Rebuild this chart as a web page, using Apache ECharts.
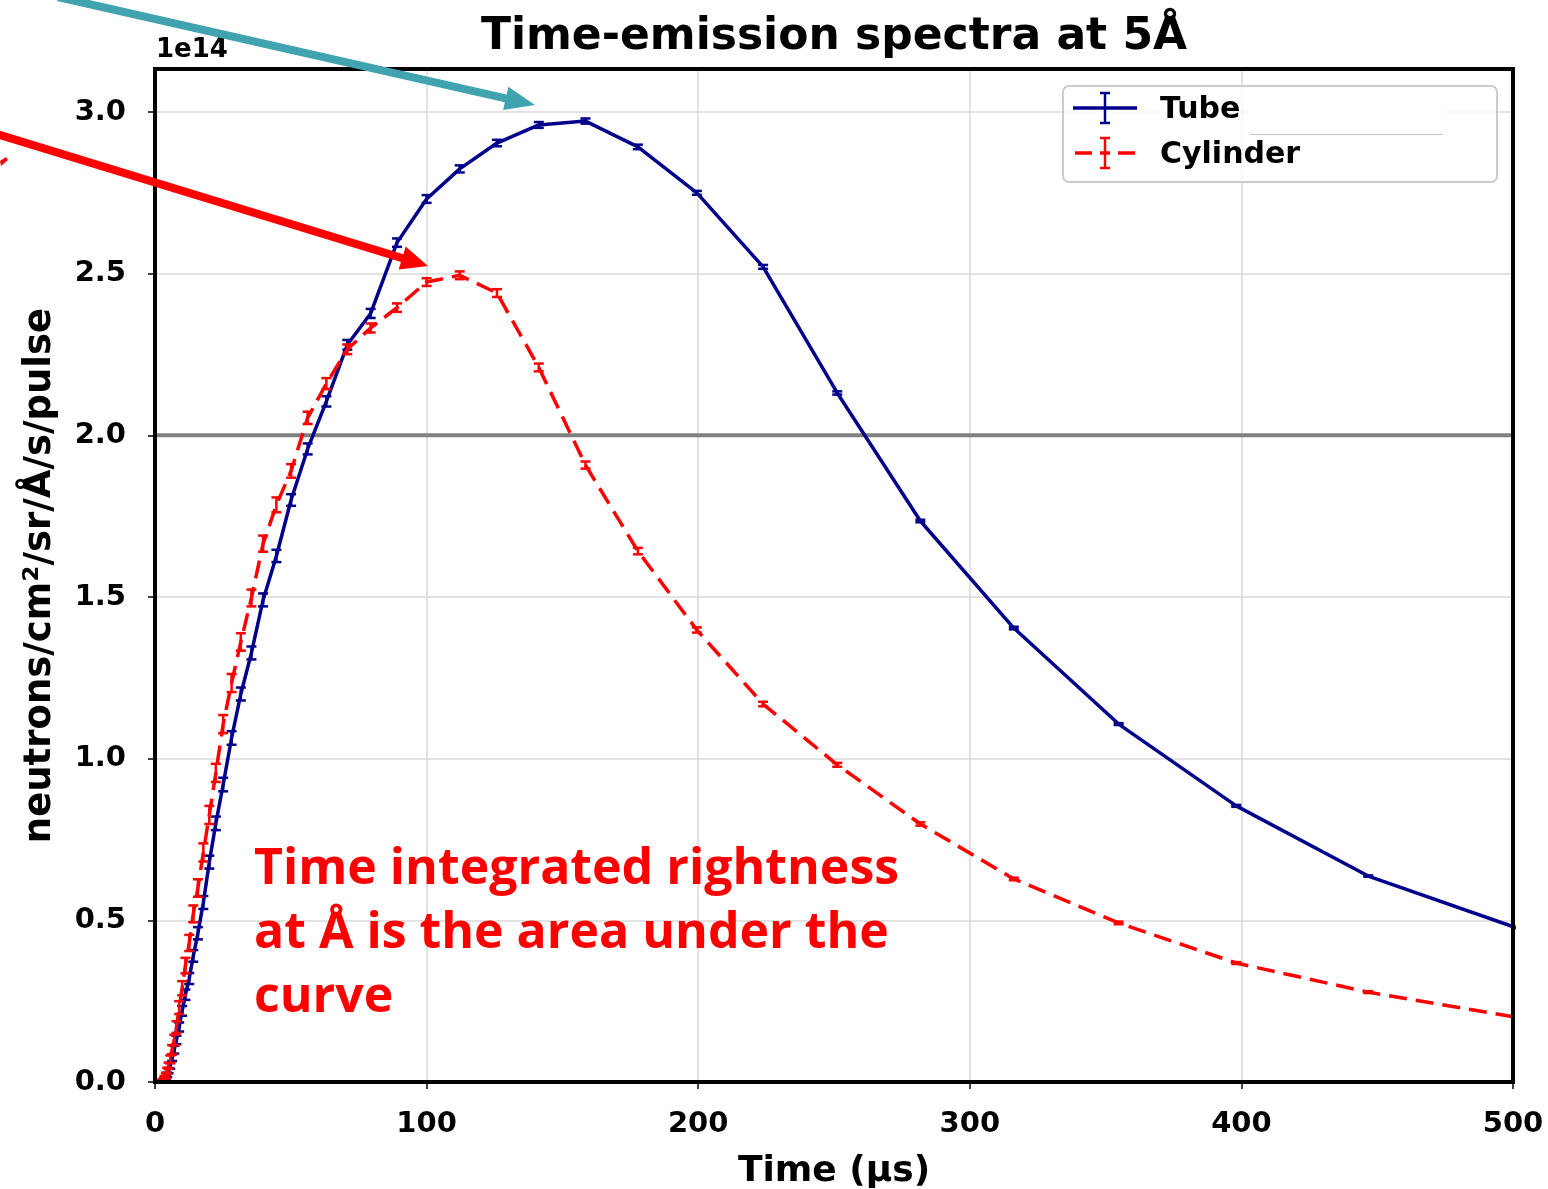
<!DOCTYPE html>
<html><head><meta charset="utf-8">
<script src="https://cdn.jsdelivr.net/npm/echarts@6/dist/echarts.min.js"></script>
<style>html,body{margin:0;padding:0;background:#fff}#c{width:1548px;height:1189px}</style>
</head><body><div id="c"></div>
<script>
// Time bins (µs)
const timeUs = [2.5,2.8,3.2,3.5,4.0,4.5,5.0,5.6,6.3,7.1,7.9,8.9,10.0,11.2,12.6,14.1,15.8,17.8,20.0,22.4,25.1,28.2,31.6,35.5,39.8,44.7,50.1,56.2,63.1,70.8,79.4,89.1,100.0,112.2,125.9,141.3,158.5,177.8,199.5,223.9,251.2,281.8,316.2,354.8,398.1,446.7,501.2];
// values in units of 1e14 neutrons/cm2/sr/Å/s/pulse
const tubeVals = [0.0,0.001,0.003,0.006,0.012,0.022,0.035,0.05,0.075,0.10,0.13,0.17,0.22,0.27,0.32,0.39,0.46,0.555,0.68,0.80,0.92,1.064,1.20,1.327,1.491,1.627,1.80,1.958,2.105,2.28,2.377,2.596,2.731,2.824,2.904,2.960,2.972,2.892,2.750,2.521,2.131,1.735,1.404,1.107,0.854,0.637,0.477];
const tubeErr = [0.003,0.003,0.004,0.005,0.006,0.007,0.008,0.009,0.01,0.012,0.013,0.014,0.015,0.016,0.017,0.018,0.019,0.02,0.02,0.021,0.021,0.021,0.02,0.02,0.02,0.019,0.018,0.017,0.016,0.015,0.014,0.013,0.012,0.011,0.01,0.009,0.008,0.007,0.006,0.006,0.005,0.004,0.004,0.003,0.003,0.002,0.002];
const cylVals = [0.001,0.003,0.006,0.012,0.02,0.035,0.05,0.07,0.10,0.13,0.17,0.23,0.29,0.36,0.43,0.52,0.60,0.71,0.826,0.956,1.107,1.234,1.361,1.497,1.665,1.785,1.89,2.054,2.16,2.266,2.332,2.395,2.474,2.495,2.44,2.21,1.908,1.642,1.398,1.169,0.981,0.798,0.628,0.492,0.368,0.278,0.200];
const cylErr = [0.004,0.005,0.006,0.007,0.008,0.009,0.01,0.012,0.014,0.016,0.018,0.02,0.022,0.024,0.025,0.026,0.027,0.028,0.028,0.028,0.028,0.028,0.027,0.026,0.025,0.023,0.021,0.019,0.017,0.015,0.014,0.013,0.012,0.012,0.012,0.012,0.011,0.01,0.008,0.007,0.006,0.005,0.004,0.004,0.003,0.003,0.003];
const xTickVals = [0,100,200,300,400,500];
const yTickVals = [0.0,0.5,1.0,1.5,2.0,2.5,3.0];
const refLevel = 2.0;

const BLUE = '#00008b', RED = '#ff0000';
const F = 'DejaVu Sans';

const tubeLine = timeUs.map((t,i)=>[t,tubeVals[i]]);
const cylLine = timeUs.map((t,i)=>[t,cylVals[i]]);
const tubeEB = timeUs.map((t,i)=>[t,tubeVals[i],tubeErr[i]]);
const cylEB = timeUs.map((t,i)=>[t,cylVals[i],cylErr[i]]);

function errRender(color){
  return function(params, api){
    const x=api.value(0), y=api.value(1), e=api.value(2);
    const a=api.coord([x,y+e]), b=api.coord([x,y-e]);
    const hw=5, st={stroke:color,lineWidth:2.5};
    return {type:'group',children:[
      {type:'line',shape:{x1:a[0],y1:a[1],x2:b[0],y2:b[1]},style:st},
      {type:'line',shape:{x1:a[0]-hw,y1:a[1],x2:a[0]+hw,y2:a[1]},style:st},
      {type:'line',shape:{x1:b[0]-hw,y1:b[1],x2:b[0]+hw,y2:b[1]},style:st}
    ]};
  };
}
function arrowPts(x0,y0,x1,y1,w,hl,hw){
  const dx=x1-x0, dy=y1-y0, L=Math.hypot(dx,dy), ux=dx/L, uy=dy/L, nx=-uy, ny=ux;
  const bx=x1-hl*ux, by=y1-hl*uy;
  return [[x0+nx*w/2,y0+ny*w/2],[bx+nx*w/2,by+ny*w/2],[bx+nx*hw,by+ny*hw],[x1,y1],[bx-nx*hw,by-ny*hw],[bx-nx*w/2,by-ny*w/2],[x0-nx*w/2,y0-ny*w/2]];
}

const chart = echarts.init(document.getElementById('c'), null, {renderer:'canvas'});
chart.setOption({
  animation:false,
  backgroundColor:'#fff',
  grid:{left:155,right:35,top:69,bottom:107,containLabel:false,outerBoundsMode:'none',show:true,borderColor:'#000',borderWidth:4,backgroundColor:'transparent',z:5},
  xAxis:{type:'value',min:0,max:500,interval:100,
    name:'Time (µs)',nameLocation:'middle',nameGap:72,
    nameTextStyle:{fontFamily:F,fontWeight:'bold',fontSize:36,color:'#000'},
    axisLine:{show:false},
    axisTick:{show:true,length:7,lineStyle:{color:'#000',width:1.5}},
    axisLabel:{fontFamily:F,fontWeight:'bold',fontSize:29,color:'#000',margin:28},
    splitLine:{show:true,lineStyle:{color:'#d8d8d8',width:1.5}}},
  yAxis:{type:'value',min:0,max:3.133,
    name:'neutrons/cm²/sr/Å/s/pulse',nameLocation:'middle',nameGap:96,nameRotate:90,
    nameTextStyle:{fontFamily:F,fontWeight:'bold',fontSize:37,color:'#000'},
    axisLine:{show:false},
    axisTick:{show:true,length:7,lineStyle:{color:'#000',width:1.5},customValues:yTickVals},
    axisLabel:{fontFamily:F,fontWeight:'bold',fontSize:29,color:'#000',margin:29,customValues:yTickVals,formatter:v=>v.toFixed(1)},
    splitLine:{show:true,lineStyle:{color:'#d8d8d8',width:1.5}}},
  series:[
    {type:'line',data:[[0,refLevel],[500,refLevel]],showSymbol:false,silent:true,lineStyle:{color:'#808080',width:4},z:1},
    {name:'Tube',type:'line',data:tubeLine,showSymbol:false,lineStyle:{color:BLUE,width:3.5},clip:true,z:2},
    {type:'custom',data:tubeEB,renderItem:errRender(BLUE),clip:true,z:2},
    {name:'Cylinder',type:'line',data:cylLine,showSymbol:false,lineStyle:{color:RED,width:3.5,type:[18,9]},clip:true,z:3},
    {type:'custom',data:cylEB,renderItem:errRender(RED),clip:true,z:3}
  ],
  graphic:[
    {type:'text',style:{text:'Time-emission spectra at 5Å',x:834,y:38,textAlign:'center',textVerticalAlign:'middle',fontFamily:F,fontWeight:'bold',fontSize:44,fill:'#000'},z:10},
    {type:'text',style:{text:'1e14',x:156,y:50,textAlign:'left',textVerticalAlign:'middle',fontFamily:F,fontWeight:'bold',fontSize:26,fill:'#000'},z:10},
    // legend
    {type:'rect',shape:{x:1063,y:86,width:434,height:96,r:6},style:{fill:'rgba(255,255,255,0.8)',stroke:'#cccccc',lineWidth:2},z:20},
    {type:'rect',shape:{x:1250,y:92,width:193,height:42},style:{fill:'#fff'},z:21},
    {type:'line',shape:{x1:1250,y1:134.5,x2:1443,y2:134.5},style:{stroke:'#c4c4c4',lineWidth:1},z:21},
    {type:'line',shape:{x1:1073,y1:108,x2:1137,y2:108},style:{stroke:BLUE,lineWidth:3.5},z:22},
    {type:'line',shape:{x1:1105,y1:93,x2:1105,y2:123},style:{stroke:BLUE,lineWidth:2.5},z:22},
    {type:'line',shape:{x1:1100,y1:93,x2:1110,y2:93},style:{stroke:BLUE,lineWidth:2.5},z:22},
    {type:'line',shape:{x1:1100,y1:123,x2:1110,y2:123},style:{stroke:BLUE,lineWidth:2.5},z:22},
    {type:'line',shape:{x1:1075,y1:153,x2:1092,y2:153},style:{stroke:RED,lineWidth:3.5},z:22},
    {type:'line',shape:{x1:1100,y1:153,x2:1110,y2:153},style:{stroke:RED,lineWidth:3.5},z:22},
    {type:'line',shape:{x1:1118,y1:153,x2:1135,y2:153},style:{stroke:RED,lineWidth:3.5},z:22},
    {type:'line',shape:{x1:1105,y1:138,x2:1105,y2:168},style:{stroke:RED,lineWidth:2.5},z:22},
    {type:'line',shape:{x1:1100,y1:138,x2:1110,y2:138},style:{stroke:RED,lineWidth:2.5},z:22},
    {type:'line',shape:{x1:1100,y1:168,x2:1110,y2:168},style:{stroke:RED,lineWidth:2.5},z:22},
    {type:'text',style:{text:'Tube',x:1160,y:110,textVerticalAlign:'middle',fontFamily:F,fontWeight:'bold',fontSize:30,fill:'#000'},z:22},
    {type:'text',style:{text:'Cylinder',x:1160,y:155,textVerticalAlign:'middle',fontFamily:F,fontWeight:'bold',fontSize:30,fill:'#000'},z:22},
    // arrows
    {type:'polygon',shape:{points:arrowPts(58,-3,535,105,8,30,12)},style:{fill:'#41a2b0'},z:30},
    {type:'polygon',shape:{points:arrowPts(-5,133.5,428,266,8,27,12)},style:{fill:RED},z:30},
    {type:'polygon',shape:{points:[[0,161],[6,157],[8,160],[1,166]]},style:{fill:RED},z:30},
    // annotation text
    {type:'text',style:{text:'Time integrated rightness\nat Å is the area under the\ncurve',x:254,y:838,lineHeight:64,textAlign:'left',textVerticalAlign:'top',fontFamily:'Open Sans',fontWeight:'bold',fontSize:50,fill:RED},z:30}
  ]
});
</script></body></html>
